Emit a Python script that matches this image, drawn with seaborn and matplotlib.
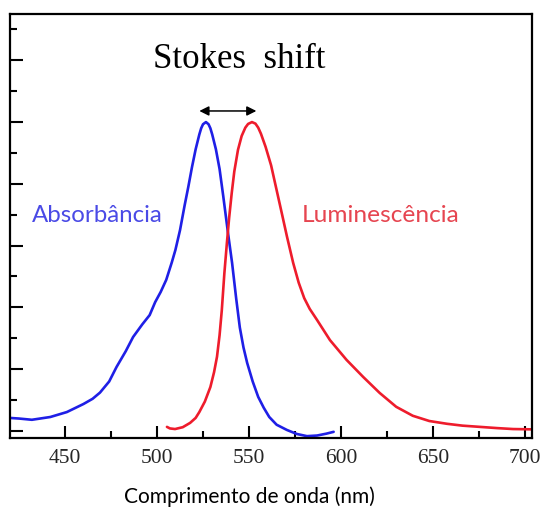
import matplotlib
matplotlib.use("Agg")
import matplotlib.pyplot as plt
import seaborn as sns
import pandas as pd

# Absorption spectrum (wavelength in nm, normalised intensity)
abs_wavelength = [420, 425, 432, 442, 451, 460, 465, 469, 474, 478, 483, 487, 492,
                  496, 499, 502, 505, 508, 510, 512.5, 515, 517, 519, 521, 523, 524,
                  525, 526.6, 528, 529, 530, 532, 534, 536, 538.6, 540.8, 543, 545,
                  547, 549, 552, 555, 558, 561, 565, 570.6, 576, 581.5, 587, 592, 596]
abs_intensity = [0.042, 0.040, 0.036, 0.045, 0.061, 0.087, 0.104, 0.124, 0.160, 0.207,
                 0.258, 0.304, 0.345, 0.375, 0.417, 0.450, 0.489, 0.545, 0.586, 0.650,
                 0.730, 0.790, 0.854, 0.912, 0.960, 0.980, 0.993, 1.000, 0.993, 0.980,
                 0.960, 0.912, 0.848, 0.760, 0.640, 0.544, 0.430, 0.335, 0.270, 0.220,
                 0.160, 0.110, 0.075, 0.045, 0.020, 0.003, -0.010, -0.017, -0.015,
                 -0.009, -0.003]

# Emission (luminescence) spectrum
lum_wavelength = [505.4, 507, 509.8, 514, 518, 521, 523, 526, 529, 531, 532.6, 534,
                  535.2, 536.6, 538, 539.2, 540.6, 542, 544, 546, 548, 549.5, 551.6,
                  553.5, 555, 556.5, 559, 562, 565, 568, 570.6, 574, 577, 580, 583,
                  587, 594, 603, 612, 621, 630, 639, 648, 657.6, 666, 675.5, 685,
                  693.5, 703.8]
lum_intensity = [0.013, 0.008, 0.006, 0.012, 0.026, 0.042, 0.061, 0.095, 0.142, 0.190,
                 0.240, 0.310, 0.390, 0.510, 0.610, 0.690, 0.770, 0.840, 0.910, 0.955,
                 0.982, 0.994, 1.000, 0.995, 0.982, 0.962, 0.920, 0.860, 0.780, 0.700,
                 0.630, 0.544, 0.480, 0.430, 0.395, 0.359, 0.294, 0.230, 0.175, 0.123,
                 0.078, 0.049, 0.032, 0.023, 0.017, 0.013, 0.009, 0.006, 0.005]

x_ticks = [450, 500, 550, 600, 650, 700]
x_tick_labels = ["450", "500", "550", "600", "650", "700"]

# Peak positions used for the Stokes-shift arrow
abs_peak = 523
lum_peak = 554

sns.set_style("ticks")
plt.rcParams["font.family"] = ["Lato", "DejaVu Sans"]

fig = plt.figure(figsize=(5.42, 5.11), dpi=100)
ax = fig.add_axes([10 / 542, 1 - 438 / 511, 522 / 542, 424 / 511])

abs_df = pd.DataFrame({"wl": abs_wavelength, "I": abs_intensity})
lum_df = pd.DataFrame({"wl": lum_wavelength, "I": lum_intensity})
sns.lineplot(data=abs_df, x="wl", y="I", ax=ax, sort=False, color="#1f1fe6", lw=1.9)
sns.lineplot(data=lum_df, x="wl", y="I", ax=ax, sort=False, color="#ee1c2c", lw=1.9)

ax.set_xlim(420.1, 703.8)
ax.set_ylim(-0.023, 1.35)

ax.set_xticks(x_ticks)
ax.set_xticklabels(x_tick_labels, family="Liberation Serif", fontsize=15.5)
ax.set_xticks([475, 525, 575, 625, 675], minor=True)
ax.set_yticks([0, 0.2, 0.4, 0.6, 0.8, 1.0, 1.2])
ax.set_yticks([0.1, 0.3, 0.5, 0.7, 0.9, 1.1, 1.3], minor=True)
ax.set_yticklabels([])
ax.tick_params(axis="both", which="major", direction="in", length=9, width=1.5,
               color="black")
ax.tick_params(axis="both", which="minor", direction="in", length=5, width=1.5,
               color="black")
ax.tick_params(axis="x", which="major", pad=8)
for s in ax.spines.values():
    s.set_linewidth(1.6)
    s.set_color("black")

ax.set_ylabel("")
ax.set_xlabel("Comprimento de onda (nm)", fontsize=15, color="black")
ax.xaxis.set_label_coords((249 - 10) / 522, (438 - 497) / 424)
ax.xaxis.label.set_va("center")

ax.annotate("", xy=(abs_peak, 1.036), xytext=(lum_peak, 1.036),
            arrowprops=dict(arrowstyle="<|-|>", color="black", lw=1.1,
                            mutation_scale=14, shrinkA=0, shrinkB=0))
ax.text(544.6, 1.175, "Stokes  shift", family="Liberation Serif", fontsize=25,
        ha="center", va="baseline", color="black")
ax.text(432.1, 0.676, "Absorbância", fontsize=17.3, color="#4a4ae6",
        ha="left", va="baseline")
ax.text(578.8, 0.676, "Luminescência", fontsize=17.6, color="#e64550",
        ha="left", va="baseline")

fig.savefig("out.png", dpi=100)
